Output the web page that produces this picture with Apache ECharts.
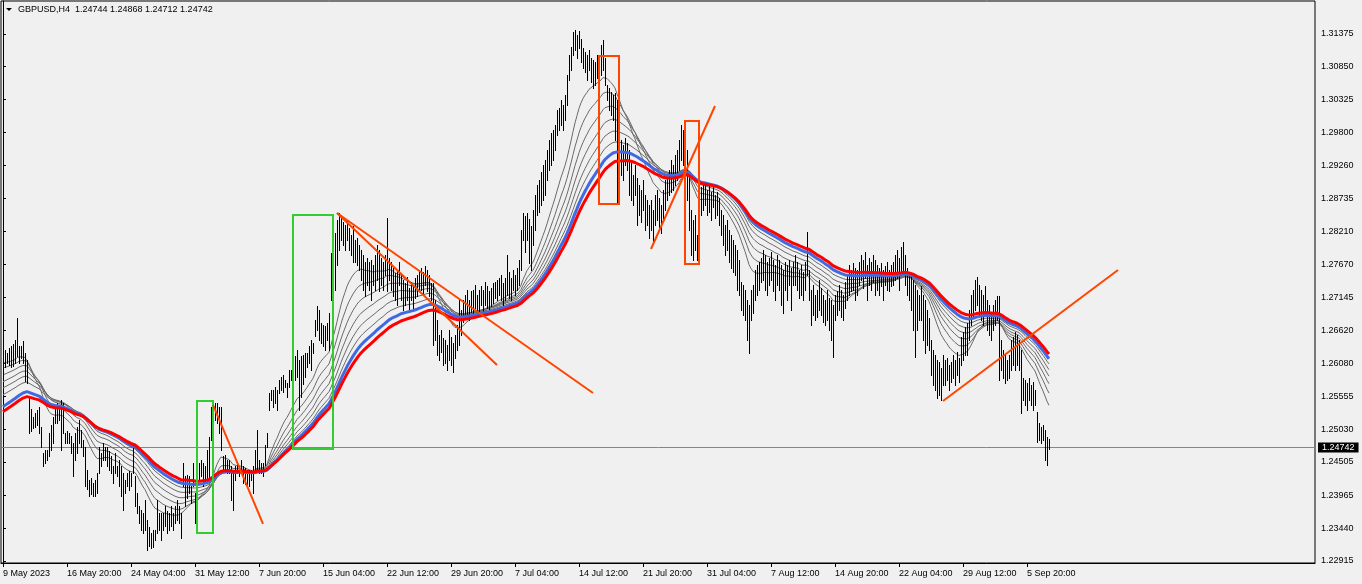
<!DOCTYPE html>
<html>
<head>
<meta charset="utf-8">
<script src="https://cdn.jsdelivr.net/npm/echarts@6.0.0/dist/echarts.min.js"></script>
<style>
html,body{margin:0;padding:0;background:#f0f0f0;}
#chart{width:1362px;height:584px;}
</style>
</head>
<body>
<div id="chart"></div>
<script>
// ---------- data ----------
const symbolTitle = 'GBPUSD,H4';
const lastBarOHLC = [1.24744, 1.24868, 1.24712, 1.24742];
const currentPrice = 1.24742;
const PRICE_BASE = 1.2;      // prices below are stored in pips above 1.2000
const PIP = 0.0001;

const lowPips = [
587,603,609,606,603,605,609,620,609,617, 609,580,577,497,500,505,507,510,497,475,
443,449,454,459,470,481,513,513,518,470, 497,481,481,481,465,427,454,464,481,475,
459,411,406,395,398,395,395,400,432,443, 454,454,443,438,432,416,432,427,411,395,
373,400,411,405,411,432,379,368,352,341, 336,341,309,316,312,314,325,336,341,325,
341,347,336,341,347,341,352,357,352,328, 411,379,392,400,384,411,352,389,422,427,
411,416,425,422,486,432,518,513,497,470, 438,436,432,432,389,373,422,432,427,432,
416,414,411,411,422,400,432,438,432,432, 427,445,475,534,550,539,545,534,561,566,
563,571,555,571,582,577,582,587,534,555, 575,587,603,609,598,625,652,662,646,641,
636,630,646,630,
711,727,727,767,791,807,799,791,807,791, 783,771,771,767,759,743,727,716,735,727,
711,735,727,743,724,735,727,751,724,743, 727,716,711,703,735,711,694,703,711,691,
711,694,714,716,727,727,719,735,724,716, 711,638,646,622,614,627,606,609,598,614,
606,595,617,630,638,654,675,681,686,678, 691,686,698,684,692,703,690,703,698,689,
700,706,714,711,719,711,703,711,719,714, 711,727,719,727,735,759,807,788,807,770,
759,799,823,847,852,863,871,879,903,919, 927,935,951,975,983,991,983,999,1024,1064,
1080,1104,1112,1099,1115,1093,1083,1077,1064,1080, 1061,1051,1056,1067,1056,1072,1080,1056,1032,1015,
1007,999,967,868,919,911,903,927,919,879, 871,863,879,831,847,836,855,823,831,810,
823,802,831,839,823,818,839,855,871,879, 884,887,895,903,919,935,927,911,871,823,
783,775,791,775,799,847,855,863,847,852, 839,860,842,847,831,815,799,783,791,771,
762,756,751,727,719,694,686,678,646,625, 678,690,711,719,727,740,743,727,719,735,
743,724,711,735,727,702,689,727,711,735, 694,735,735,727,714,719,711,727,751,711,
670,686,678,683,694,686,675,670,678,662, 646,619,678,686,694,683,678,698,711,719,
724,727,711,719,735,743,730,746,711,735, 727,740,719,727,719,732,711,735,727,724,
732,735,743,746,727,756,759,735,719,711, 694,662,618,662,678,678,646,625,638,630,
590,574,566,553,558,550,574,574,582,566, 579,585,574,590,579,606,614,622,622,646,
670,683,694,702,686,678,670,686,662,654, 646,662,670,678,582,598,585,577,582,585,
598,606,598,606,598,529,550,542,534,550, 542,534,542,483,486,481,486,454,446,471
];
const highPips = [
628,630,625,633,636,640,646,681,636,636, 644,625,614,555,535,523,529,534,539,507,
464,470,470,497,510,523,539,545,539,550, 545,497,500,497,492,481,497,507,518,502,
486,475,438,422,425,416,422,432,475,464, 481,475,475,468,459,443,464,443,454,443,
432,422,432,436,432,475,427,400,379,373, 368,389,357,345,336,341,341,389,368,368,
368,379,372,368,379,368,379,389,379,368, 448,427,430,427,411,448,400,422,448,454,
448,443,470,491,539,550,545,545,539,539, 459,462,454,454,443,438,443,448,443,454,
443,440,438,438,438,443,470,502,454,448, 448,478,497,561,566,566,571,566,582,587,
590,582,577,598,598,620,620,630,614,620, 622,625,625,636,646,641,678,700,694,673,
670,668,673,689,
786,807,818,839,850,847,836,831,839,826, 815,829,807,810,799,791,783,771,777,771,
775,767,783,799,791,777,771,783,842,777, 771,762,754,759,771,751,743,738,747,730,
740,735,746,751,756,762,756,765,759,751, 738,738,711,678,654,662,649,646,638,662,
651,641,654,670,711,694,711,719,727,711, 724,727,735,719,727,733,727,740,732,724,
730,738,740,743,746,751,738,746,783,756, 746,759,751,762,775,823,850,845,850,840,
829,855,879,895,903,916,927,935,951,967, 978,983,991,1015,1018,1032,1024,1040,1072,1104,
1117,1141,1144,1136,1142,1130,1115,1109,1104,1112, 1099,1096,1093,1104,1096,1120,1128,1099,1056,1051,
1045,1040,1043,1032,999,967,959,970,962,951, 935,911,927,906,895,887,903,879,871,863,
871,855,879,887,874,863,887,903,906,919, 935,927,943,951,967,991,983,995,951,911,
855,839,847,815,855,892,900,895,887,895, 884,892,879,884,874,855,847,831,839,823,
815,807,799,791,775,740,735,727,711,703, 727,735,759,767,771,777,791,783,771,777,
788,775,767,783,775,767,759,771,767,775, 762,771,783,771,759,767,756,771,820,759,
727,735,719,727,743,730,719,711,727,714, 711,702,719,724,735,727,719,740,751,767,
759,770,762,759,771,783,775,788,767,777, 771,783,775,767,762,770,759,765,771,759,
767,771,783,791,777,795,803,783,762,756, 751,743,735,727,719,732,719,711,694,681,
646,630,622,614,611,601,622,614,617,606, 611,622,614,627,617,651,659,667,673,694,
719,727,743,748,735,727,719,732,711,703, 691,703,711,716,716,646,630,622,614,622,
646,651,659,654,646,630,585,582,577,585, 574,579,566,530,513,507,510,502,491,487
];

const xLabelBars = [0,32,64,96,128,160,192,224,256,288,320,352,384,416,448,480,512];
const xLabels = ['9 May 2023','16 May 20:00','24 May 04:00','31 May 12:00','7 Jun 20:00',
  '15 Jun 04:00','22 Jun 12:00','29 Jun 20:00','7 Jul 04:00','14 Jul 12:00','21 Jul 20:00',
  '31 Jul 04:00','7 Aug 12:00','14 Aug 20:00','22 Aug 04:00','29 Aug 12:00','5 Sep 20:00'];
const yTicks = [1.31375,1.30850,1.30325,1.29800,1.29260,1.28735,1.28210,1.27670,1.27145,
  1.26620,1.26080,1.25555,1.25030,1.24505,1.23965,1.23440,1.22915];

// moving averages (EMA periods and their values at the first visible bar, in pips)
const grayPeriods = [20, 28, 36, 44, 52, 60];
const grayStartPips = [609, 601, 590, 579, 569, 558];
const bluePeriod = 68, blueStartPips = 539;
const redPeriod = 76, redStartPips = 531;

// drawn objects: [barFrom, priceFrom, barTo, priceTo]
const greenBoxes = [[97, 1.25481, 105, 1.23361], [145, 1.28468, 165, 1.24710]];
const orangeBoxes = [[298, 1.31022, 308, 1.28645], [341, 1.29978, 348, 1.27681]];
const trendLines = [[105, 1.25417, 130, 1.23506], [167, 1.28500, 247, 1.26059],
  [167, 1.28500, 295, 1.25609], [324, 1.27922, 356, 1.30219], [470, 1.25481, 557.5, 1.27585]];

// ---------- build ----------
const bars = lowPips.map((l, i) => [i, PRICE_BASE + l * PIP, PRICE_BASE + highPips[i] * PIP]);
const mids = bars.map(b => (b[1] + b[2]) / 2);
function ema(period, startPips) {
  const a = 2 / (period + 1);
  let v = PRICE_BASE + startPips * PIP;
  return mids.map((p, i) => { if (i > 0) v += a * (p - v); return [i, v]; });
}
const FONT = 'Liberation Sans';
const chart = echarts.init(document.getElementById('chart'));

const series = [];
// current price line with its label box on the price scale
series.push({
  type: 'custom', data: [[0, currentPrice]], encode: { x: 0, y: 1 }, z: 1, silent: true, clip: false,
  renderItem: (params, api) => {
    const cs = params.coordSys;
    const y = Math.round(api.coord([api.value(0), api.value(1)])[1]) + 0.5;
    return { type: 'group', children: [
      { type: 'line', shape: { x1: cs.x + 1, y1: y, x2: cs.x + cs.width, y2: y },
        style: { stroke: '#778899', lineWidth: 1 } },
      { type: 'text', x: cs.x + cs.width + 3, y: y,
        style: { text: api.value(1).toFixed(5), fill: '#fff', backgroundColor: '#000',
          padding: [1, 4, 0, 4], fontSize: 9, fontFamily: FONT, verticalAlign: 'middle', align: 'left' } }
    ] };
  }
});
grayPeriods.forEach((p, k) => series.push({
  type: 'line', data: ema(p, grayStartPips[k]), showSymbol: false, symbol: 'none', silent: true, z: 2,
  lineStyle: { color: '#6a6a6a', width: 1 }
}));
series.push({
  type: 'custom', name: 'bars', data: bars, encode: { x: 0, y: [1, 2] }, z: 3, silent: true,
  renderItem: (params, api) => {
    const i = api.value(0);
    const lo = api.coord([i, api.value(1)]);
    const hi = api.coord([i, api.value(2)]);
    const x = Math.floor(lo[0]) + 0.5;
    return { type: 'line', shape: { x1: x, y1: Math.round(hi[1]), x2: x, y2: Math.round(lo[1]) + 1 },
      style: { stroke: '#000', lineWidth: 1 } };
  }
});
series.push({ type: 'line', data: ema(bluePeriod, blueStartPips), symbol: 'none', silent: true, z: 4,
  lineStyle: { color: '#4169e1', width: 3 } });
series.push({ type: 'line', data: ema(redPeriod, redStartPips), symbol: 'none', silent: true, z: 5,
  lineStyle: { color: '#ff0000', width: 3 } });
const boxData = greenBoxes.map(b => b.concat([0])).concat(orangeBoxes.map(b => b.concat([1])));
series.push({
  type: 'custom', data: boxData, encode: { x: [0, 2], y: [1, 3] }, z: 10, silent: true,
  renderItem: (params, api) => {
    const a = api.coord([api.value(0), api.value(1)]);
    const b = api.coord([api.value(2), api.value(3)]);
    return { type: 'rect', shape: { x: Math.min(a[0], b[0]), y: Math.min(a[1], b[1]),
      width: Math.abs(b[0] - a[0]), height: Math.abs(b[1] - a[1]) },
      style: { fill: 'none', stroke: api.value(4) === 0 ? '#32cd32' : '#ff4500', lineWidth: 2 } };
  }
});
series.push({
  type: 'custom', data: trendLines, encode: { x: [0, 2], y: [1, 3] }, z: 10, silent: true,
  renderItem: (params, api) => {
    const a = api.coord([api.value(0), api.value(1)]);
    const b = api.coord([api.value(2), api.value(3)]);
    return { type: 'line', shape: { x1: a[0], y1: a[1], x2: b[0], y2: b[1] },
      style: { stroke: '#ff4500', lineWidth: 2 } };
  }
});

chart.setOption({
  backgroundColor: '#f0f0f0',
  animation: false,
  title: {
    text: symbolTitle + '  ' + lastBarOHLC.map(v => v.toFixed(5)).join(' '),
    left: 18, top: 5, padding: 0,
    textStyle: { fontSize: 9, fontWeight: 'normal', color: '#000', fontFamily: FONT }
  },
  graphic: [{ type: 'polygon', shape: { points: [[6, 8], [12, 8], [9, 11]] }, style: { fill: '#000' } }],
  grid: { left: 1, top: 1, right: 47, bottom: 21, show: true, borderColor: '#000', borderWidth: 1,
    backgroundColor: 'transparent' },
  xAxis: {
    type: 'value', min: -1, max: 656, position: 'bottom',
    splitLine: { show: false },
    axisLine: { show: true, onZero: false, lineStyle: { color: '#000' } },
    axisTick: { show: true, customValues: xLabelBars, length: 4, lineStyle: { color: '#000' } },
    axisLabel: { customValues: xLabelBars, formatter: v => xLabels[xLabelBars.indexOf(v)],
      align: 'left', margin: 6, fontSize: 9, color: '#000', fontFamily: FONT }
  },
  yAxis: {
    type: 'value', position: 'right', min: 1.22879, max: 1.31905,
    splitLine: { show: false },
    axisLine: { show: true, lineStyle: { color: '#000' } },
    axisTick: { show: true, customValues: yTicks, length: 3, lineStyle: { color: '#000' } },
    axisLabel: { customValues: yTicks, formatter: v => v.toFixed(5), margin: 6, fontSize: 9,
      color: '#000', fontFamily: FONT }
  },
  series: series
});
</script>
</body>
</html>
